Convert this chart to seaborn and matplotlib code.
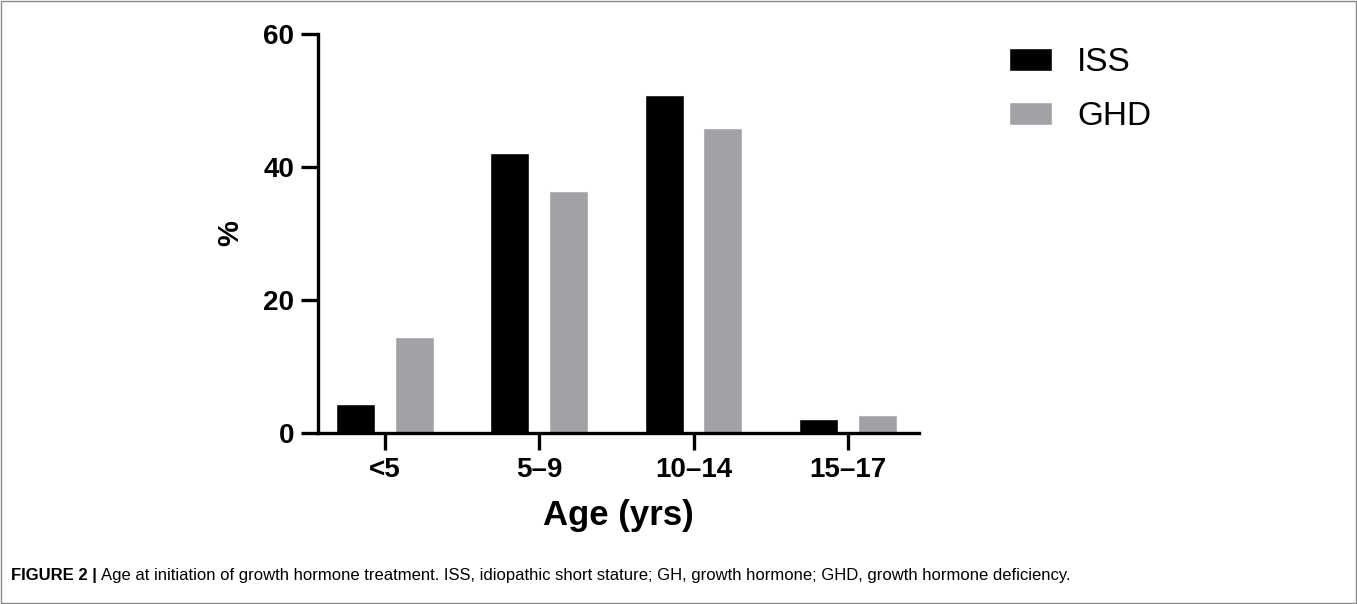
import matplotlib
matplotlib.use("Agg")
import matplotlib.pyplot as plt
import seaborn as sns
import pandas as pd

# Age at initiation of GH treatment (% of patients)
age_groups = ["<5", "5\u20139", "10\u201314", "15\u201317"]
iss_pct = [4.4, 42.1, 50.9, 2.15]
ghd_pct = [14.5, 36.4, 45.9, 2.75]
groups = ["ISS", "GHD"]
colors = {"ISS": "#000000", "GHD": "#a2a1a6"}

df = pd.DataFrame({
    "age": age_groups * 2,
    "pct": iss_pct + ghd_pct,
    "group": [groups[0]] * len(age_groups) + [groups[1]] * len(age_groups),
})

sns.set_theme(style="ticks")
plt.rcParams["font.family"] = ["Liberation Sans", "DejaVu Sans"]
plt.rcParams.update({"text.color": "black", "axes.labelcolor": "black",
                     "xtick.color": "black", "ytick.color": "black"})

fig = plt.figure(figsize=(13.57, 6.04), dpi=100)
ax = fig.add_axes([0.2343, 0.2831, 0.4429, 0.6606])

sns.barplot(data=df, x="age", y="pct", hue="group", palette=colors,
            width=0.76, gap=0.334, saturation=1, ax=ax, legend=True)

ax.set_ylim(0, 60)
ax.set_yticks([0, 20, 40, 60])
ax.set_xlim(-0.434, 3.46)
sns.despine(ax=ax)
for s in ["left", "bottom"]:
    ax.spines[s].set_linewidth(2.4)
    ax.spines[s].set_color("black")
ax.tick_params(axis="both", width=2.4, length=12, labelsize=20, pad=5)
for lab in ax.get_xticklabels() + ax.get_yticklabels():
    lab.set_fontweight("bold")

ax.set_xlabel("Age (yrs)", fontsize=25, fontweight="bold", labelpad=12)
ax.set_ylabel("%", fontsize=21, fontweight="bold", labelpad=14)

leg = ax.legend(loc="upper left", bbox_to_anchor=(1009 / 1357, 1 - 47 / 604),
                bbox_transform=fig.transFigure, frameon=False,
                borderpad=0, borderaxespad=0,
                fontsize=24, handlelength=1.29, handleheight=0.66,
                labelspacing=0.70, handletextpad=0.75)

# frame around the whole figure and caption
fig.patches.append(plt.Rectangle((0.001, 0.001), 0.998, 0.997, transform=fig.transFigure,
                                 fill=False, edgecolor="#888888", linewidth=1))
cap = fig.text(0.008, 0.04, "FIGURE 2 |", fontsize=12, fontweight="bold", va="baseline")
ax.annotate("Age at initiation of growth hormone treatment. ISS, idiopathic short stature; "
            "GH, growth hormone; GHD, growth hormone deficiency.",
            xy=(1, 0), xycoords=cap, xytext=(3, 0), textcoords="offset points",
            fontsize=12, va="bottom", annotation_clip=False)

fig.savefig("out.png", dpi=100)
